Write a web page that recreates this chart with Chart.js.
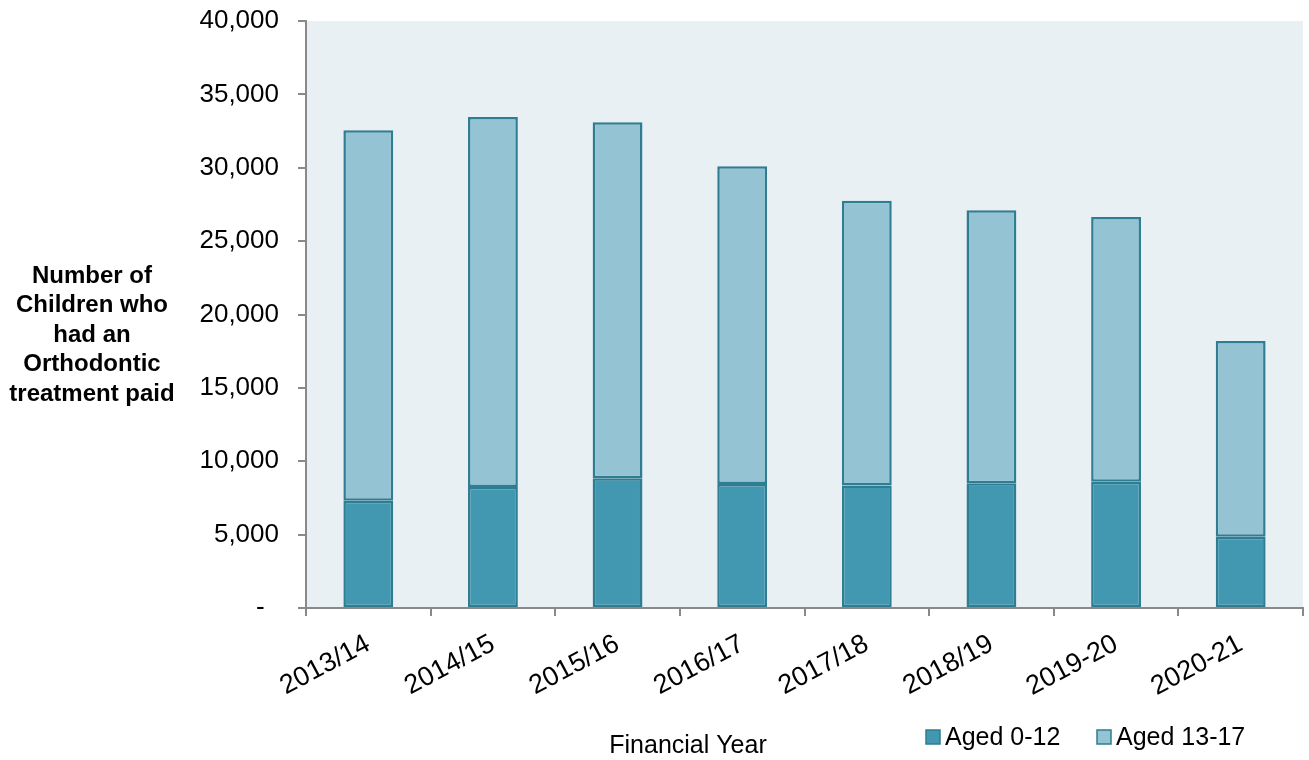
<!DOCTYPE html>
<html>
<head>
<meta charset="utf-8">
<script src="https://cdn.jsdelivr.net/npm/chart.js@4"></script>
<style>
  body { margin: 0; background: #fff; }
  #wrap { width: 1309px; height: 760px; }
</style>
</head>
<body>
<div id="wrap"><canvas id="barChart" width="1309" height="760"></canvas></div>
<script>
// データ
const years = ['2013/14', '2014/15', '2015/16', '2016/17', '2017/18', '2018/19', '2019-20', '2020-21'];
const aged0to12 = [7300, 8250, 8850, 8450, 8350, 8500, 8600, 4850];
const aged13to17 = [25250, 25200, 24250, 21650, 19400, 18600, 18050, 13350];
const yTicks = [0, 5000, 10000, 15000, 20000, 25000, 30000, 35000, 40000];

const yTitle = ['Number of', 'Children who', 'had an', 'Orthodontic', 'treatment paid'];
const xTitle = 'Financial Year';

const FONT = '"Liberation Sans", Arial, sans-serif';

// 背景・タイトル・凡例を描くプラグイン
const extras = {
    id: 'extras',
    beforeDraw(chart) {
        const { ctx, chartArea: a } = chart;
        ctx.save();
        ctx.fillStyle = '#e8f0f4';
        ctx.fillRect(a.left, a.top, a.right - a.left, a.bottom - a.top);
        ctx.restore();
    },
    afterDraw(chart) {
        const ctx = chart.ctx;
        ctx.save();
        ctx.fillStyle = '#000';
        ctx.textAlign = 'center';
        ctx.textBaseline = 'middle';
        ctx.font = 'bold 24px ' + FONT;
        yTitle.forEach((t, i) => ctx.fillText(t, 92, 276 + i * 29.5));
        ctx.font = '25px ' + FONT;
        ctx.fillText(xTitle, 688, 746);

        // 凡例
        ctx.textAlign = 'left';
        ctx.font = '25px ' + FONT;
        const items = [[926, 0], [1097, 1]];
        items.forEach(([x, i]) => {
            const ds = chart.data.datasets[i];
            ctx.fillStyle = ds.backgroundColor;
            ctx.strokeStyle = ds.borderColor;
            ctx.lineWidth = 1.5;
            ctx.fillRect(x, 730, 14, 14);
            ctx.strokeRect(x, 730, 14, 14);
            ctx.fillStyle = '#000';
            ctx.fillText(ds.label, x + 19, 738);
        });
        ctx.restore();
    }
};

const ctx = document.getElementById('barChart').getContext('2d');
new Chart(ctx, {
    type: 'bar',
    data: {
        labels: years,
        datasets: [{
            label: 'Aged 0-12',
            data: aged0to12,
            backgroundColor: '#4298b0',
            borderColor: '#2f7d92',
            borderWidth: 2.5,
            borderSkipped: false,
            categoryPercentage: 1,
            barPercentage: 0.4
        }, {
            label: 'Aged 13-17',
            data: aged13to17,
            backgroundColor: '#94c3d4',
            borderColor: '#2f7d92',
            borderWidth: 2.5,
            borderSkipped: false,
            categoryPercentage: 1,
            barPercentage: 0.4
        }]
    },
    options: {
        responsive: false,
        animation: false,
        layout: { padding: { top: 21, right: 6, left: 0, bottom: 0 } },
        plugins: {
            legend: { display: false },
            tooltip: { enabled: false }
        },
        scales: {
            x: {
                stacked: true,
                afterFit(scale) { scale.height = 152; },
                grid: {
                    offset: true,
                    drawOnChartArea: false,
                    drawTicks: true,
                    tickLength: 8,
                    color: '#898989',
                    lineWidth: 2
                },
                border: { color: '#898989', width: 2 },
                ticks: {
                    color: '#000',
                    font: { family: FONT, size: 27 },
                    minRotation: 28,
                    maxRotation: 28,
                    padding: 12
                }
            },
            y: {
                stacked: true,
                min: 0,
                max: 40000,
                afterFit(scale) {
                    scale.width = 306;
                    scale.paddingTop = 0;
                    scale.paddingBottom = 0;
                },
                afterBuildTicks(scale) { scale.ticks = yTicks.map(v => ({ value: v })); },
                grid: {
                    drawOnChartArea: false,
                    tickLength: 8,
                    color: '#898989',
                    lineWidth: 2
                },
                border: { color: '#898989', width: 2 },
                ticks: {
                    color: '#000',
                    font: { family: FONT, size: 26 },
                    padding: 19,
                    callback: v => v === 0 ? '-  ' : v.toLocaleString('en-US')
                }
            }
        }
    },
    plugins: [extras]
});
</script>
</body>
</html>
